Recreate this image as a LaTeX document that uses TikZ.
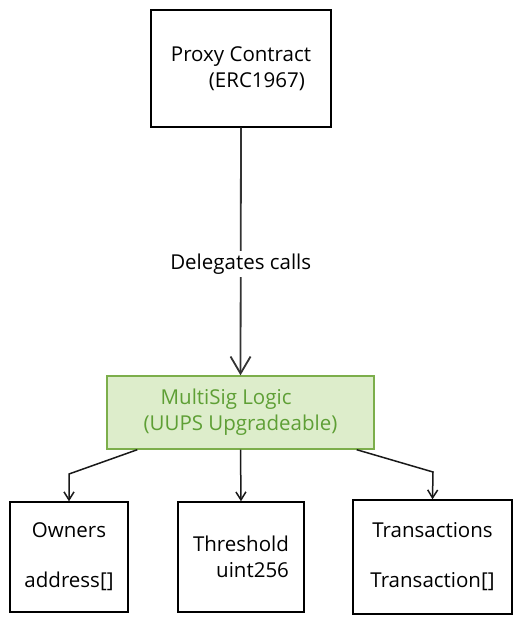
\documentclass[tikz,border=0pt]{standalone}
\usepackage{fontspec}
\setmainfont{Open Sans}
\usetikzlibrary{arrows.meta,calc}
\definecolor{msfill}{HTML}{DDEDCB}
\definecolor{msdraw}{HTML}{7CAE4B}
\definecolor{mstext}{HTML}{5E9F35}
\definecolor{linegray}{HTML}{333333}
\begin{document}
\begin{tikzpicture}[x=1pt,y=-1pt,
  box/.style={draw=black,line width=1.4pt,fill=white,inner sep=0pt,font=\fontsize{20.5}{26}\selectfont},
  greenbox/.style={draw=msdraw,line width=1.4pt,fill=msfill,text=mstext,inner sep=0pt,font=\fontsize{20.5}{26}\selectfont},
  bigarrow/.style={draw=linegray,line width=1.8pt,-{Straight Barb[length=17pt,width=20pt,line width=1.8pt]}},
  smallarrow/.style={draw=black!90,line width=1.5pt,-{Straight Barb[length=8pt,width=10pt,line width=1.5pt]}},
  lbl/.style={fill=white,inner sep=3pt,font=\fontsize{20.5}{24}\selectfont}
]
\useasboundingbox (0,0) rectangle (522,624);
\fill[white] (0,0) rectangle (522,624);

\node[box,minimum width=180pt,minimum height=117pt,align=left] (proxy) at (241,68.5)
  {Proxy Contract\\\hspace*{38pt}(ERC1967)};
\node[greenbox,minimum width=267pt,minimum height=73pt,align=left] (ms) at (240.5,412.5)
  {\hspace*{17pt}MultiSig Logic\\(UUPS Upgradeable)};
\node[box,minimum width=118pt,minimum height=110pt,align=center] (own) at (69,557)
  {Owners\\[24pt]address[]};
\node[box,minimum width=126pt,minimum height=110pt,align=right] (thr) at (241,557)
  {Threshold\\uint256};
\node[box,minimum width=159pt,minimum height=114pt,align=center] (tx) at (432.5,557)
  {Transactions\\[24pt]Transaction[]};

\draw[bigarrow] (proxy.south) -- node[lbl,pos=0.55] (dl) {Delegates calls} (ms.north);

\coordinate (s1) at ($(ms.south west)+(31,0)$);
\coordinate (b1) at (69,474);
\coordinate (s3) at ($(ms.south east)+(-18,0)$);
\coordinate (b3) at (433,472);
\draw[smallarrow] (s1) -- (b1) -- (own.north);
\draw[smallarrow] (ms.south) -- (thr.north);
\draw[smallarrow] (s3) -- (b3) -- (tx.north);
\end{tikzpicture}
\end{document}
